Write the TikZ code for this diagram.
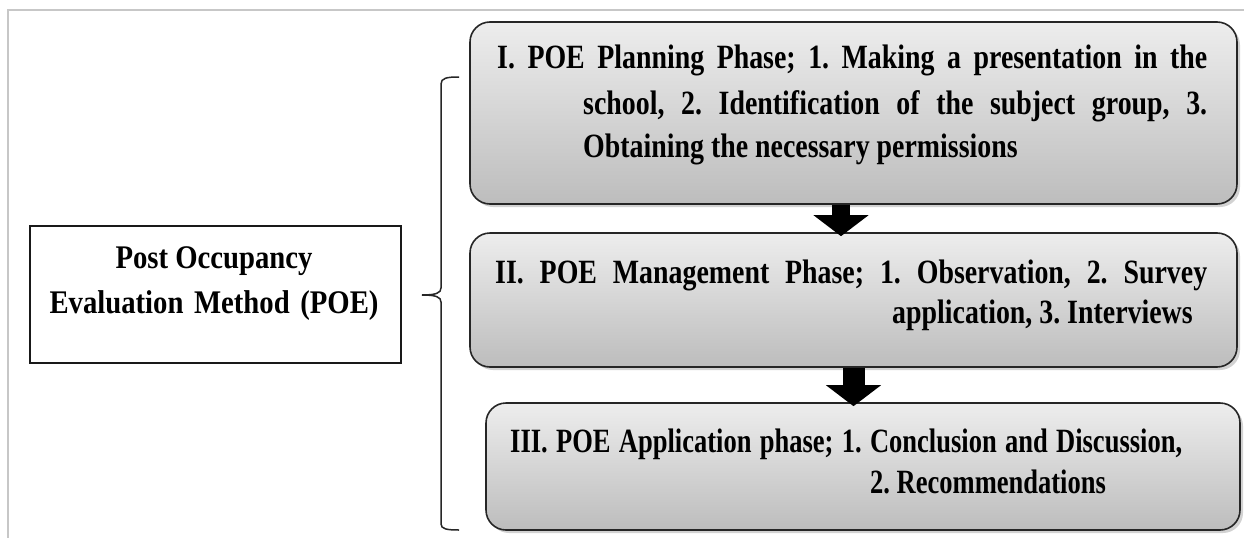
\documentclass[tikz,border=0pt]{standalone}
\usepackage{fontspec}
\setmainfont{Liberation Serif}
\newfontfamily\fa[FakeStretch=0.82]{Liberation Serif}
\newfontfamily\fb[FakeStretch=0.78]{Liberation Serif}
\newfontfamily\fc[FakeStretch=0.87]{Liberation Serif}
\usetikzlibrary{shadows,arrows.meta,calc}
\frenchspacing
\tikzset{
  phase/.style={draw=black!85, line width=1.6pt, rounded corners=20pt,
    top color=black!7, bottom color=black!26,
    drop shadow={shadow xshift=3pt, shadow yshift=-3pt, opacity=0.35},
    inner sep=0pt},
  ta/.style={inner sep=0pt, anchor=base west, font=\fa\bfseries\fontsize{34}{40}\selectfont},
  tb/.style={inner sep=0pt, anchor=base west, font=\fb\bfseries\fontsize{34}{40}\selectfont},
  tc/.style={inner sep=0pt, anchor=base, font=\fc\bfseries\fontsize{33}{40}\selectfont},
  blockarrow/.style={draw=black, line width=#1, -{Triangle[width=54pt,length=21pt]}, shorten >=-4pt},
  brace/.style={draw=black!85, line width=1.5pt},
  frameline/.style={draw=black!22, line width=1.3pt}
}
\begin{document}
\begin{tikzpicture}[x=1pt,y=-1pt]
\useasboundingbox (0,0) rectangle (1244,538);
\fill[white] (0,0) rectangle (1244,538);
\draw[frameline] (1244,10) -- (8,10) -- (8,538);

% left box
\node[draw=black!90, line width=1.4pt, fill=white, minimum width=371pt, minimum height=137pt, inner sep=0pt] (poe) at (215.5,294.5) {};
\node[tc] (poe1) at (214,268) {Post Occupancy};
\node[tc] (poe2) at (214,313) {\makebox[329pt][s]{Evaluation Method (POE)}};

% brace
\draw[brace] (459,77) .. controls (447,77) and (441,78) .. (441,84)
  -- (441,288) .. controls (441,293) and (436,295) .. (422,295)
  .. controls (436,295) and (441,297) .. (441,302)
  -- (441,524) .. controls (441,529) and (447,530) .. (459,530);

% phase boxes
\node[phase, minimum width=767pt, minimum height=182pt] (b1) at (853.5,113) {};
\node[phase, minimum width=767pt, minimum height=134pt] (b2) at (853.5,300) {};
\node[phase, minimum width=754pt, minimum height=127pt] (b3) at (863,466.5) {};

% arrows
\draw[blockarrow=18pt] ([xshift=-12.5pt]b1.south) -- ([xshift=-12.5pt]b1.south |- b2.north);
\draw[blockarrow=22pt] (b2.south) -- (b2.south |- b3.north);

% texts
\node[ta] (p1a) at (497,68) {\makebox[710pt][s]{I. POE Planning Phase; 1. Making a presentation in the}};
\node[ta] (p1b) at (583,114) {\makebox[624pt][s]{school, 2. Identification of the subject group, 3.}};
\node[ta] (p1c) at (583,157) {Obtaining the necessary permissions};

\node[ta] (p2a) at (495,283) {\makebox[712pt][s]{II. POE Management Phase; 1. Observation, 2. Survey}};
\node[ta] (p2b) at (892,323) {application, 3. Interviews};

\node[tb] (p3a) at (510,452) {\makebox[672pt][s]{III. POE Application phase; 1. Conclusion and Discussion,}};
\node[tb] (p3b) at (870,493) {2. Recommendations};
\end{tikzpicture}
\end{document}
